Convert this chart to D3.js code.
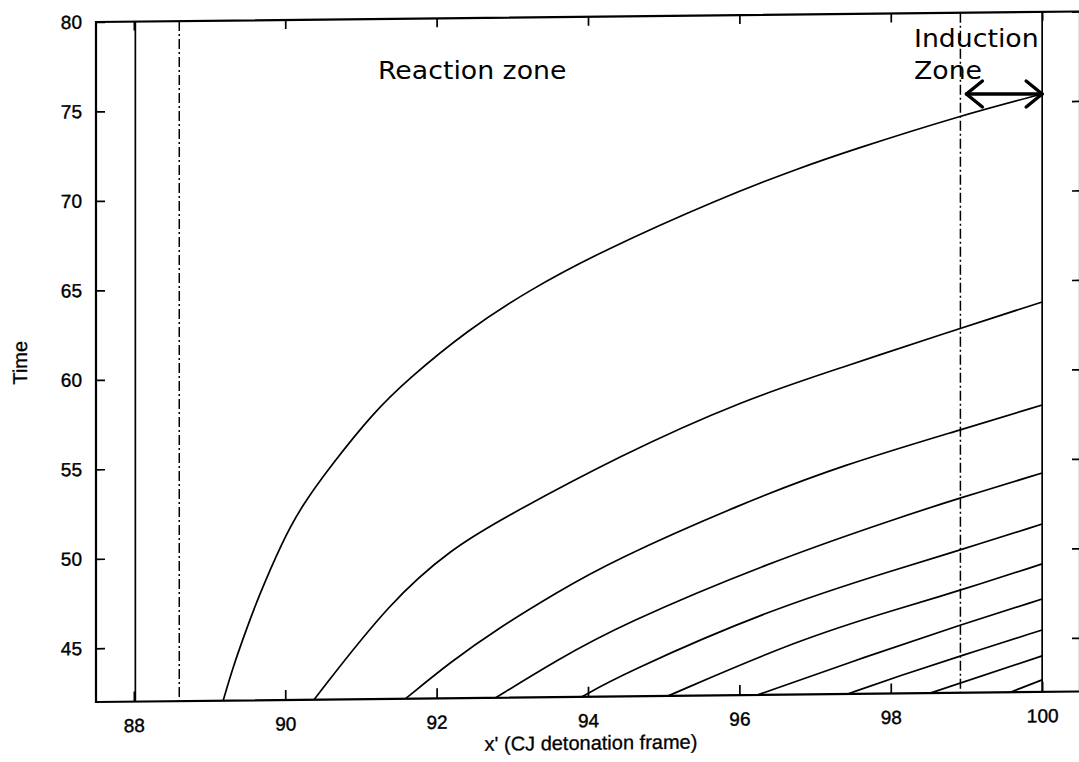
<!DOCTYPE html>
<html>
<head>
<meta charset="utf-8">
<script src="https://cdn.jsdelivr.net/npm/d3@7/dist/d3.min.js"></script>
<style>
  html, body { margin: 0; padding: 0; background: #fff; }
  svg { display: block; }
</style>
</head>
<body>
<svg id="chart" width="1079" height="762"></svg>
<script>
// Axis ticks and extents
const xTicks = [88, 90, 92, 94, 96, 98, 100];
const yTicks = [45, 50, 55, 60, 65, 70, 75, 80];
const xDomain = [87.5, 100.5];
const yDomain = [42, 80];

// Characteristic paths in the CJ frame: [x', time]
const path1 = [[89.18, 42], [89.31, 43.87], [89.47, 45.77], [89.63, 47.61], [89.96, 50.85], [90.22, 52.85], [90.60, 55.05], [91.16, 57.98], [91.61, 59.81], [92.41, 62.57], [93.24, 64.80], [94.16, 66.85], [95.75, 69.79], [96.80, 71.43], [97.47, 72.38], [98.94, 74.28], [100, 75.41]];
const path2 = [[90.38, 42], [91.40, 47.52], [92.22, 50.40], [92.82, 51.90], [94.43, 55.49], [96.05, 58.49], [97.37, 60.27], [98.65, 62.01], [100, 63.79]];
const path3 = [[91.59, 42], [92.18, 44.02], [92.82, 45.90], [93.59, 47.85], [94.29, 49.52], [96.05, 52.74], [97.37, 54.80], [98.92, 56.69], [100, 58.03]];
const path4 = [[92.78, 42], [93.59, 44.07], [94.43, 45.99], [96.37, 49.37], [98.13, 51.86], [98.92, 52.89], [100, 54.23]];
const path5 = [[93.92, 42], [94.43, 43.20], [96.37, 46.74], [98.13, 49.01], [98.92, 49.98], [100, 51.38]];
const path6 = [[95.06, 42], [96.80, 45.10], [98.13, 46.77], [98.92, 47.72], [100, 49.15]];
const path7 = [[96.24, 42], [97.69, 44.10], [98.92, 45.79], [100, 47.19]];
const path8 = [[97.43, 42], [98.13, 43.00], [98.92, 44.06], [100, 45.46]];
const path9 = [[98.52, 42], [100, 44.01]];
const path10 = [[99.58, 42], [100, 42.67]];
const characteristicPaths = [path1, path2, path3, path4, path5, path6, path7, path8, path9, path10];

// Zone boundaries
const solidBounds = [88.02, 100];
const dashDotBounds = [88.6, 98.92];

// Labels
const reactionLabel = "Reaction zone";
const inductionLabel = ["Induction", "Zone"];
const xTitle = "x' (CJ detonation frame)";
const yTitle = "Time";

const svg = d3.select("#chart");
const plotLeft = 96, plotRight = 1080, plotTop = 22, plotBottom = 702;
const shear = 0.0107; // slight shear of the printed page

const x = d3.scaleLinear().domain(xDomain).range([plotLeft, plotRight]);
const y = d3.scaleLinear().domain(yDomain).range([plotBottom, plotTop]);

const skewDeg = -Math.atan(shear) * 180 / Math.PI;
const plot = svg.append("g")
  .attr("transform", `translate(${plotLeft},0) skewY(${skewDeg}) translate(${-plotLeft},0)`);

const tickFont = "'Liberation Sans', Arial, sans-serif";

// Frame
plot.append("rect")
  .attr("x", plotLeft).attr("y", plotTop)
  .attr("width", plotRight - plotLeft).attr("height", plotBottom - plotTop)
  .attr("fill", "none").attr("stroke", "#000").attr("stroke-width", 2.2);

// Bottom axis with inward ticks
const gx = plot.append("g").attr("transform", `translate(0,${plotBottom})`)
  .call(d3.axisBottom(x).tickValues(xTicks).tickSizeInner(-10).tickSizeOuter(0).tickPadding(17));
// Top axis ticks
const gxt = plot.append("g").attr("transform", `translate(0,${plotTop})`)
  .call(d3.axisTop(x).tickValues(xTicks).tickSizeInner(-9).tickSizeOuter(0).tickFormat(""));
// Left axis with inward ticks
const gy = plot.append("g").attr("transform", `translate(${plotLeft},0)`)
  .call(d3.axisLeft(y).tickValues(yTicks).tickSizeInner(-9).tickSizeOuter(0).tickPadding(14));
// Right axis ticks
const gyr = plot.append("g").attr("transform", `translate(${plotRight},0)`)
  .call(d3.axisRight(y).tickValues(yTicks).tickSizeInner(-8).tickSizeOuter(0).tickFormat(""));

[gx, gxt, gy, gyr].forEach(g => {
  g.select(".domain").remove();
  g.selectAll(".tick line").attr("stroke", "#000").attr("stroke-width", 1.7);
  g.selectAll(".tick text")
    .attr("fill", "#000")
    .style("font-family", tickFont)
    .style("font-size", "19px")
    .attr("stroke", "#000").attr("stroke-width", 0.4);
});

// Axis titles
plot.append("text")
  .attr("x", 591).attr("y", 755)
  .attr("text-anchor", "middle")
  .style("font-family", tickFont).style("font-size", "20px")
  .attr("stroke", "#000").attr("stroke-width", 0.3)
  .text(xTitle);
plot.append("text")
  .attr("transform", "translate(27,362) rotate(-90)")
  .attr("text-anchor", "middle")
  .style("font-family", tickFont).style("font-size", "20px")
  .attr("stroke", "#000").attr("stroke-width", 0.3)
  .text(yTitle);

// Zone boundaries
plot.selectAll("line.solid-bound").data(solidBounds).enter().append("line")
  .attr("class", "solid-bound")
  .attr("x1", d => x(d)).attr("x2", d => x(d))
  .attr("y1", plotTop).attr("y2", plotBottom)
  .attr("stroke", "#000").attr("stroke-width", 1.7);
plot.selectAll("line.dash-bound").data(dashDotBounds).enter().append("line")
  .attr("class", "dash-bound")
  .attr("x1", d => x(d)).attr("x2", d => x(d))
  .attr("y1", plotTop).attr("y2", plotBottom)
  .attr("stroke", "#000").attr("stroke-width", 1.5)
  .attr("stroke-dasharray", "10,3,2,3");

// Characteristic paths
const line = d3.line().x(d => x(d[0])).y(d => y(d[1])).curve(d3.curveBasis);
plot.selectAll("path.characteristic").data(characteristicPaths).enter().append("path")
  .attr("class", "characteristic")
  .attr("d", line)
  .attr("fill", "none").attr("stroke", "#000").attr("stroke-width", 1.7);

// Screen position of a data point after the shear
const screen = (xv, tv) => [x(xv), y(tv) - (x(xv) - plotLeft) * shear];

// Annotations
const annoFont = "'DejaVu Sans', sans-serif";
const annotate = (txt, ax, ay) => svg.append("text")
  .attr("transform", `translate(${ax},${ay}) scale(1.07,1)`)
  .style("font-family", annoFont).style("font-size", "25px")
  .text(txt);
annotate(reactionLabel, 378, 79);
annotate(inductionLabel[0], 914, 47);
annotate(inductionLabel[1], 914, 79);

// Double-headed arrow spanning the induction zone
const endPt = path1[path1.length - 1];
const [ax2, ay] = screen(endPt[0], endPt[1]);
const ax1 = x(dashDotBounds[1]) + 6;
const head = 16, spread = 13;
const arrow = svg.append("g").attr("stroke", "#000").attr("stroke-width", 3.4)
  .attr("fill", "none").attr("stroke-linecap", "round").attr("stroke-linejoin", "round");
arrow.append("line").attr("x1", ax1).attr("y1", ay).attr("x2", ax2).attr("y2", ay);
arrow.append("polyline").attr("points", `${ax1 + head},${ay - spread} ${ax1},${ay} ${ax1 + head},${ay + spread}`);
arrow.append("polyline").attr("points", `${ax2 - head},${ay - spread} ${ax2},${ay} ${ax2 - head},${ay + spread}`);
</script>
</body>
</html>
